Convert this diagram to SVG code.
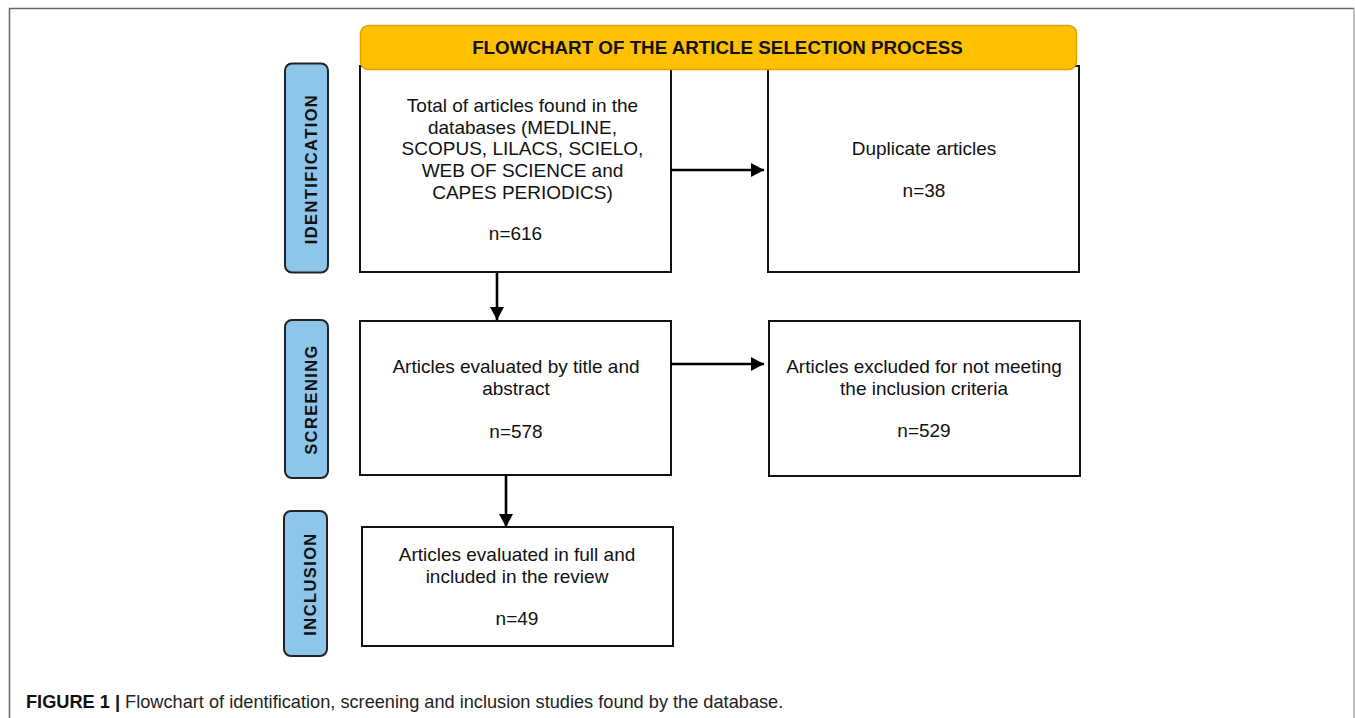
<svg xmlns="http://www.w3.org/2000/svg" width="1355" height="718" viewBox="0 0 1355 718">
<style>
.box{fill:#fff;stroke:#111;stroke-width:2}
.tab{fill:#8EC5EA;stroke:#222;stroke-width:2}
.t{font-family:"Liberation Sans",Arial,sans-serif;font-size:19px;fill:#111;text-anchor:middle}
.tt{font-family:"Liberation Sans",Arial,sans-serif;font-size:16.5px;font-weight:bold;fill:#111;text-anchor:middle;letter-spacing:1.4px}
.cap{font-family:"Liberation Sans",Arial,sans-serif;font-size:18.2px;fill:#222}
.conn{stroke:#000;stroke-width:2.6;fill:none;marker-end:url(#ah)}
</style>
<defs>
<marker id="ah" markerUnits="userSpaceOnUse" markerWidth="14" markerHeight="15" refX="13" refY="7" orient="auto">
<path d="M0,0 L13,7 L0,14 z" fill="#000"/>
</marker>
</defs>
<rect width="1355" height="718" fill="#fff"/>
<path d="M9.5,718 V8.5 H1354" fill="none" stroke="#666" stroke-width="1.5"/>
<path d="M1354,8.5 V718" fill="none" stroke="#aaa" stroke-width="1.5"/>

<g id="box-total">
<rect class="box" x="360" y="66" width="311" height="206"/>
<text class="t" x="522.5" y="112">Total of articles found in the</text>
<text class="t" x="522.5" y="133.7">databases (MEDLINE,</text>
<text class="t" x="522.5" y="155.4">SCOPUS, LILACS, SCIELO,</text>
<text class="t" x="522.5" y="177.1">WEB OF SCIENCE and</text>
<text class="t" x="522.5" y="198.8">CAPES PERIODICS)</text>
<text class="t" x="515.5" y="240">n=616</text>
</g>
<g id="box-duplicate">
<rect class="box" x="768" y="66" width="311" height="206"/>
<text class="t" x="924" y="155">Duplicate articles</text>
<text class="t" x="924" y="197">n=38</text>
</g>
<g id="header">
<rect x="360.5" y="25.5" width="716" height="44" rx="8" fill="#FFC000" stroke="#D9A300" stroke-width="1.5"/>
<text class="t" x="717.5" y="54" style="font-weight:bold;font-size:18.8px">FLOWCHART OF THE ARTICLE SELECTION PROCESS</text>
</g>
<g id="tab-identification">
<rect class="tab" x="285" y="63.5" width="43" height="209" rx="7"/>
<text class="tt" transform="translate(316.5,169) rotate(-90)">IDENTIFICATION</text>
</g>
<g id="tab-screening">
<rect class="tab" x="285" y="320" width="43" height="158" rx="7"/>
<text class="tt" transform="translate(316.5,399.5) rotate(-90)">SCREENING</text>
</g>
<g id="tab-inclusion">
<rect class="tab" x="284" y="511" width="43" height="145" rx="7"/>
<text class="tt" transform="translate(315.5,584) rotate(-90)">INCLUSION</text>
</g>
<g id="box-screened">
<rect class="box" x="360" y="321" width="311" height="154"/>
<text class="t" x="516" y="373">Articles evaluated by title and</text>
<text class="t" x="516" y="394.5">abstract</text>
<text class="t" x="516" y="437.5">n=578</text>
</g>
<g id="box-excluded">
<rect class="box" x="769" y="321" width="311" height="155"/>
<text class="t" x="924" y="373.3">Articles excluded for not meeting</text>
<text class="t" x="924" y="394.5">the inclusion criteria</text>
<text class="t" x="924" y="437.3">n=529</text>
</g>
<g id="box-included">
<rect class="box" x="362" y="527" width="311" height="119"/>
<text class="t" x="517" y="561">Articles evaluated in full and</text>
<text class="t" x="517" y="582.7">included in the review</text>
<text class="t" x="517" y="625">n=49</text>
</g>
<g id="connectors">
<line class="conn" x1="671" y1="170" x2="764" y2="170"/>
<line class="conn" x1="671" y1="364" x2="764" y2="364"/>
<line class="conn" x1="497" y1="272" x2="497" y2="320"/>
<line class="conn" x1="506" y1="475" x2="506" y2="527"/>
</g>
<g id="caption">
<text class="cap" x="26" y="708"><tspan font-weight="bold" fill="#111">FIGURE 1 | </tspan>Flowchart of identification, screening and inclusion studies found by the database.</text>
</g>
</svg>
